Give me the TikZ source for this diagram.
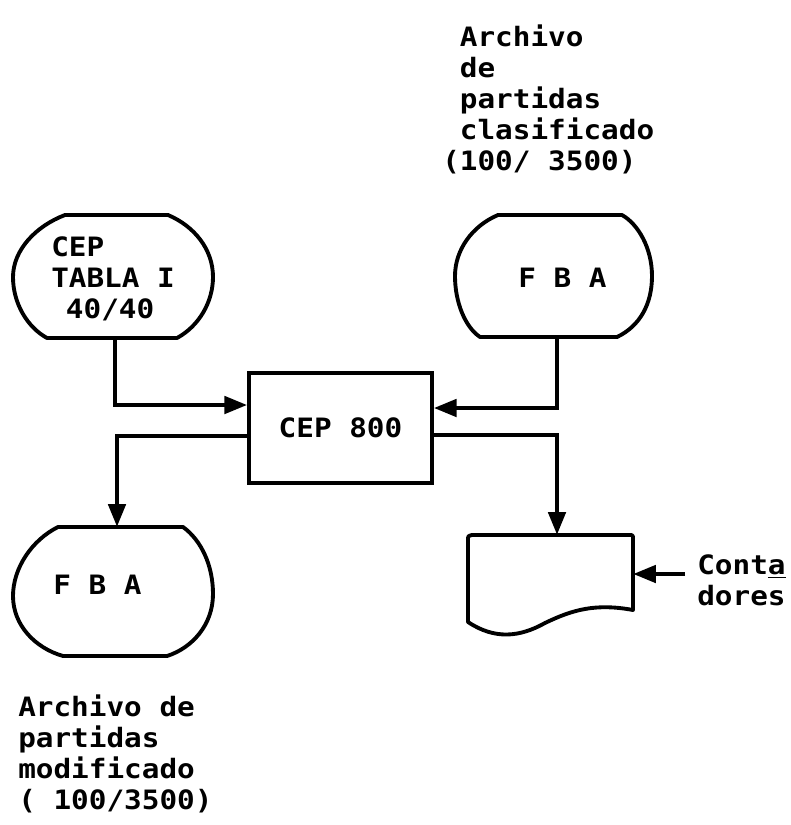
\documentclass[tikz,border=0pt]{standalone}
\usepackage{fontspec}
\newfontfamily\tw{DejaVu Sans Mono}[FakeStretch=1.1]
\usetikzlibrary{arrows.meta,calc}
\tikzset{
  shp/.style={line width=2.9pt,line join=round,line cap=round},
  flow/.style={line width=2.9pt,-{Triangle[length=17pt,width=13pt]}},
  ghost/.style={draw=none,inner sep=0pt,rectangle},
  lbl/.style={inner sep=0pt,align=left,font=\tw\bfseries\fontsize{20pt}{23.25pt}\selectfont},
}
\begin{document}
\begin{tikzpicture}[x=0.75pt,y=-0.75pt]
\useasboundingbox (0,0) rectangle (791,825);

% invisible shape nodes (positions / sizes of drawn shapes)
\node[ghost,minimum width=150pt,minimum height=92.25pt] (s1) at (113,276.5) {};
\node[ghost,minimum width=147.75pt,minimum height=91.5pt] (s2) at (553.5,276) {};
\node[ghost,minimum width=150pt,minimum height=97.5pt] (s3) at (113,592) {};
\node[ghost,minimum width=123.75pt,minimum height=66pt] (doc) at (550.5,579) {};
\node[draw,line width=2.9pt,rectangle,inner sep=0pt,minimum width=137.25pt,minimum height=82.5pt,
      font=\tw\bfseries\fontsize{20pt}{23.25pt}\selectfont] (box) at (340.5,428) {CEP 800};

% storage shapes
\draw[shp] (65,215) -- (168,215) .. controls (194,226) and (213,249) .. (213,277)
  .. controls (213,302) and (199,326) .. (177,338) -- (47,338)
  .. controls (27,327) and (13,303) .. (13,277)
  .. controls (13,250) and (36,226) .. (65,215) -- cycle;
\draw[shp] (498,215) -- (622,215) .. controls (638,224) and (652,248) .. (652,276)
  .. controls (652,304) and (640,326) .. (617,337) -- (480,337)
  .. controls (465,327) and (455,302) .. (455,276)
  .. controls (455,250) and (472,226) .. (498,215) -- cycle;
\draw[shp] (58,527) -- (183,527) .. controls (201,540) and (213,565) .. (213,594)
  .. controls (213,625) and (192,648) .. (167,656) -- (63,656)
  .. controls (35,648) and (13,625) .. (13,596)
  .. controls (13,568) and (32,540) .. (58,527) -- cycle;
% document shape
\draw[shp] (468,545) -- (468,540) .. controls (468,536) .. (472,535) -- (629,535)
  .. controls (633,535) .. (633,539) -- (633,610)
  .. controls (595,603) and (572,610) .. (545,623)
  .. controls (520,637) and (495,640) .. (468,622) -- cycle;

% labels
\node[lbl,anchor=north west] (t1) at (51,236.5) {CEP\\TABLA I\\\hspace{11pt}40/40};
\node[lbl,anchor=north west] (t2) at (518,267.5) {F B A};
\node[lbl,anchor=north west] (t3) at (53,574.5) {F B A};
\node[lbl,anchor=north west] (top) at (442,24.5)
  {\phantom{(}Archivo\\\phantom{(}de\\\phantom{(}partidas\\\phantom{(}clasificado\\(100/ 3500)};
\node[lbl,anchor=north west] (bot) at (18,694.5)
  {Archivo de\\partidas\\modificado\\( 100/3500)};
\node[lbl,anchor=north west] (cont) at (697,554.5) {Cont\underline{a}\\dores};

% connectors
\coordinate (ct) at (685,574);
\draw[flow] ($(s1.south)+(2,0)$) |- ($(box.west)+(0,-23)$);
\draw[flow] ($(s2.south)+(3.5,0)$) |- ($(box.east)+(0,-20)$);
\draw[flow] ($(box.west)+(0,8)$) -| ($(s3.north)+(4,0)$);
\draw[flow] ($(box.east)+(0,7)$) -| ($(doc.north)+(6.5,0)$);
\draw[flow] (ct) -- (ct -| doc.east);
\end{tikzpicture}
\end{document}
